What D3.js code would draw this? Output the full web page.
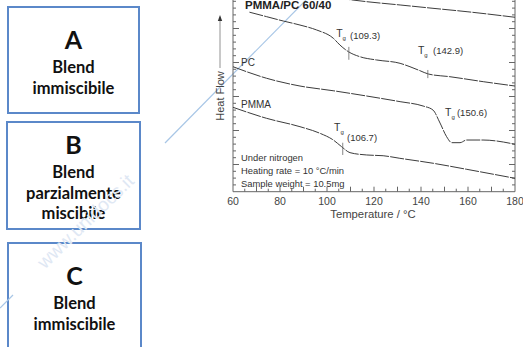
<!DOCTYPE html>
<html>
<head>
<meta charset="utf-8">
<title>DSC PMMA/PC</title>
<script src="https://d3js.org/d3.v7.min.js"></script>
<style>
  body { margin:0; background:#fff; }
  svg text { font-family: "Liberation Sans", Arial, sans-serif; }
  .box text { font-family: Lato, "Open Sans", sans-serif; font-weight:bold; fill:#111; }
</style>
</head>
<body>
<div id="chart"></div>
<script>
// data: temperature (°C) vs heat flow (arbitrary units)
var blendTemp = [67, 74.3, 81.4, 88.5, 95.6, 102.7, 105.5, 109.1, 114, 121.1, 131.1, 135.3, 139.6, 143.1, 152.3, 166.5, 180];
var blendFlow = [26.4, 25.74, 25.1, 24.51, 23.78, 22.56, 21.57, 20.59, 19.85, 19.37, 18.88, 18.38, 17.79, 17.31, 16.91, 16.18, 15.54];

var pcTemp = [60, 74.3, 88.5, 102.6, 116.9, 131.1, 140.9, 145.1, 148.1, 150.9, 153.1, 156.6, 159.4, 166.4, 180];
var pcFlow = [18.38, 16.68, 15.54, 14.85, 14.07, 13.24, 12.6, 12.01, 10.1, 8.09, 7.21, 7.21, 7.6, 7.6, 6.98];

var pmmaTemp = [60, 74.3, 88.5, 97, 102.7, 106.2, 109.8, 116.9, 123.9, 131, 145.2, 159.5, 180];
var pmmaFlow = [12.41, 10.79, 9.56, 8.59, 7.6, 6.62, 5.74, 5.4, 5.29, 4.91, 4.18, 3.29, 1.97];

var topTemp = [104, 117, 131.1, 145.1, 159.6, 180];
var topFlow = [28.5, 27.94, 27.46, 26.97, 26.47, 25.65];

var tgMarks = [[109.3, 21.3, 19.4], [142.9, 17.9, 16.7], [106.7, 7.2, 5.4]];
var tgLabels = [
  {t:103.9, f:22.75, nx:109.8, nf:22.46, txt:"(109.3)"},
  {t:138.7, f:20.25, nx:145.1, nf:20.25, txt:"(142.9)"},
  {t:150.2, f:11.1, nx:155.3, nf:11.2, txt:"(150.6)"},
  {t:103, f:8.9, nx:108.5, nf:7.46, txt:"(106.7)"}
];
var xTicks = [60, 80, 100, 120, 140, 160, 180];
var notes = ["Under nitrogen", "Heating rate = 10 \u00B0C/min", "Sample weight = 10.5mg"];

var boxes = [
  {x:8, y:7, w:131, h:106, top:0, letter:"A", lines:["Blend","immiscibile"]},
  {x:7, y:122, w:133, h:107, top:-10, letter:"B", lines:["Blend","parzialmente","miscibile"]},
  {x:8, y:243, w:133, h:110, top:0, letter:"C", lines:["Blend","immiscibile"]}
];

var width = 523, height = 347;
var svg = d3.select("#chart").append("svg")
            .attr("width", width)
            .attr("height", height);
svg.append("rect").attr("width", width).attr("height", height).attr("fill", "white");

// watermark
var wm = svg.append("g");
wm.append("line").attr("x1",165).attr("y1",143).attr("x2",306).attr("y2",0)
  .attr("stroke","#a8c6e6").attr("stroke-width",1.2);
wm.append("line").attr("x1",0).attr("y1",308).attr("x2",13).attr("y2",295)
  .attr("stroke","#a8c6e6").attr("stroke-width",1.2);
wm.append("text").attr("transform","translate(90,226) rotate(-44)")
  .attr("text-anchor","middle").attr("font-size",19).attr("fill","#dfe8f4")
  .text("www.unidocs.it");

// boxes on the left
var bx = svg.selectAll("g.box").data(boxes).enter().append("g").attr("class","box");
bx.append("rect")
  .attr("x", function(d){return d.x}).attr("y", function(d){return d.y})
  .attr("width", function(d){return d.w}).attr("height", function(d){return d.h})
  .attr("fill","white").attr("stroke","#5b88c9").attr("stroke-width",2);
bx.append("text")
  .attr("x", function(d){return d.x + d.w/2}).attr("y", function(d){return d.y + d.top + 42})
  .attr("text-anchor","middle").attr("font-size",25)
  .text(function(d){return d.letter});
bx.each(function(d){
  var g = d3.select(this);
  d.lines.forEach(function(l, i){
    g.append("text").attr("x", d.x + d.w/2).attr("y", d.y + d.top + 66 + i*20.5)
     .attr("text-anchor","middle").attr("font-size",16.5).text(l);
  });
});

// watermark text sits over the boxes, very faint
wm.raise();

// chart
var x = d3.scaleLinear().domain([60, 180]).range([233, 515]);
var y = d3.scaleLinear().domain([0, 30]).range([191.7, -12.3]);

var plot = svg.append("g");
var axisCol = "#666";

// frame
plot.append("line").attr("x1",x(60)).attr("x2",x(60)).attr("y1",-2).attr("y2",y(0)).attr("stroke",axisCol);
plot.append("line").attr("x1",x(180)).attr("x2",x(180)).attr("y1",-2).attr("y2",y(0)).attr("stroke",axisCol);
plot.append("line").attr("x1",x(60)).attr("x2",x(180)).attr("y1",y(0)).attr("y2",y(0)).attr("stroke",axisCol);

// y ticks, both sides, inward
var yt = d3.range(1, 30);
plot.selectAll("line.yl").data(yt).enter().append("line")
  .attr("x1", x(60)).attr("x2", function(d){return x(60) + ((d % 5 == 4) ? 6 : 3)})
  .attr("y1", function(d){return y(d)}).attr("y2", function(d){return y(d)})
  .attr("stroke", axisCol);
plot.selectAll("line.yr").data(yt).enter().append("line")
  .attr("x1", x(180)).attr("x2", function(d){return x(180) - ((d % 5 == 4) ? 6 : 3)})
  .attr("y1", function(d){return y(d)}).attr("y2", function(d){return y(d)})
  .attr("stroke", axisCol);

// x ticks
var xt = d3.range(65, 180, 5);
plot.selectAll("line.xt").data(xt).enter().append("line")
  .attr("x1", function(d){return x(d)}).attr("x2", function(d){return x(d)})
  .attr("y1", y(0)).attr("y2", function(d){return y(0) - (d % 10 == 0 ? 5 : 3)})
  .attr("stroke", axisCol);
plot.selectAll("text.xl").data(xTicks).enter().append("text")
  .attr("x", function(d){return x(d)}).attr("y", 204.5)
  .attr("text-anchor","middle").attr("font-size",10.5).attr("fill","#444")
  .text(function(d){return d});
plot.append("text").attr("x", 373).attr("y", 217.5).attr("text-anchor","middle")
  .attr("font-size",11.3).attr("fill","#444").text("Temperature / \u00B0C");

// y title with arrow
plot.append("text").attr("transform","translate(224,96) rotate(-90)")
  .attr("text-anchor","middle").attr("font-size",11).attr("fill","#444").text("Heat Flow");
plot.append("line").attr("x1",220).attr("x2",220).attr("y1",68).attr("y2",20)
  .attr("stroke","#777").attr("stroke-width",0.8);
plot.append("path").attr("d","M220,15 L217.8,21 L222.2,21 Z").attr("fill","#333");

// curves
var line = d3.line().x(function(d){return x(d[0])}).y(function(d){return y(d[1])}).curve(d3.curveMonotoneX);
var series = [d3.zip(topTemp, topFlow), d3.zip(blendTemp, blendFlow), d3.zip(pcTemp, pcFlow), d3.zip(pmmaTemp, pmmaFlow)];
plot.selectAll("path.curve").data(series).enter().append("path")
  .attr("d", line).attr("fill","none").attr("stroke","#3c3c3c").attr("stroke-width",1)
  .attr("stroke-dasharray","14,1.2");

// Tg markers
plot.selectAll("line.tg").data(tgMarks).enter().append("line")
  .attr("x1", function(d){return x(d[0])}).attr("x2", function(d){return x(d[0])})
  .attr("y1", function(d){return y(d[1])}).attr("y2", function(d){return y(d[2])})
  .attr("stroke","#666").attr("stroke-width",0.8);

var tl = plot.selectAll("g.tgl").data(tgLabels).enter().append("g").attr("fill","#333");
tl.append("text").attr("x", function(d){return x(d.t)}).attr("y", function(d){return y(d.f)})
  .attr("font-size",10.5).text("T")
  .append("tspan").attr("dy",3).attr("font-size",6).text("g");
tl.append("text").attr("x", function(d){return x(d.nx)}).attr("y", function(d){return y(d.nf)})
  .attr("font-size",9.5).text(function(d){return d.txt});

// curve names
plot.append("text").attr("x", 241).attr("y", y(18.5)).attr("font-size",10).attr("fill","#333").text("PC");
plot.append("text").attr("x", 241).attr("y", y(12.3)).attr("font-size",10).attr("fill","#333").text("PMMA");
plot.append("text").attr("x", 245).attr("y", 9).attr("font-size",11.5).attr("font-weight","bold")
  .attr("fill","#222").text("PMMA/PC 60/40");

// notes
plot.selectAll("text.note").data(notes).enter().append("text")
  .attr("x", 241).attr("y", function(d, i){return 161 + i*13})
  .attr("font-size",9.4).attr("fill","#333").text(function(d){return d});
</script>
</body>
</html>
